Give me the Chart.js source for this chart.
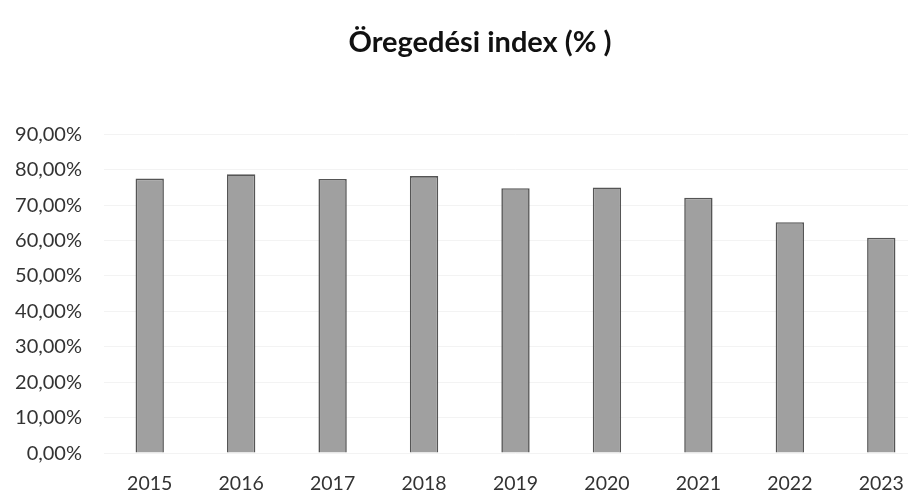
<!DOCTYPE html>
<html>
<head>
<meta charset="utf-8">
<script src="https://cdn.jsdelivr.net/npm/chart.js@4"></script>
<style>
  html, body { margin: 0; padding: 0; background: #fff; overflow: hidden; }
  #wrap { position: absolute; left: 0; top: 0; width: 960px; height: 515px; }
</style>
</head>
<body>
<div id="wrap"><canvas id="c"></canvas></div>
<script>
const chartTitle = "Öregedési index (% )";
const years = ["2015", "2016", "2017", "2018", "2019", "2020", "2021", "2022", "2023"];
const agingIndex = [77.5, 78.7, 77.4, 78.2, 74.8, 75.0, 72.1, 65.2, 60.8];
const yTickValues = [0, 10, 20, 30, 40, 50, 60, 70, 80, 90];

const fmt = v => v.toFixed(2).replace('.', ',') + '%';

new Chart(document.getElementById('c'), {
  type: 'bar',
  data: {
    labels: years,
    datasets: [{
      data: agingIndex,
      backgroundColor: '#a0a0a0',
      borderColor: '#555555',
      borderWidth: 1.6,
      categoryPercentage: 0.31,
      barPercentage: 1.0
    }]
  },
  options: {
    responsive: true,
    maintainAspectRatio: false,
    animation: false,
    layout: { padding: { left: 0, right: 0, top: 0, bottom: 0.5 } },
    plugins: {
      legend: { display: false },
      tooltip: { enabled: false },
      title: {
        display: true,
        text: chartTitle,
        color: '#111111',
        font: { family: 'Lato', size: 29, weight: 'bold' },
        padding: { top: 25, bottom: 74.5 }
      }
    },
    scales: {
      x: {
        grid: { display: false, drawTicks: false },
        border: { display: false },
        ticks: {
          color: '#333333',
          padding: 19,
          font: { family: 'Lato', size: 19.5 }
        }
      },
      y: {
        min: 0,
        max: 90,
        afterBuildTicks: s => { s.ticks = yTickValues.map(v => ({ value: v })); },
        afterFit: s => { s.width = 104; },
        grid: { color: '#f3f3f3', drawTicks: false },
        border: { display: false },
        ticks: {
          color: '#333333',
          padding: 22,
          font: { family: 'Lato', size: 20 },
          callback: v => fmt(v)
        }
      },
      yRight: {
        position: 'right',
        display: true,
        afterFit: s => { s.width = 33; },
        grid: { display: false, drawTicks: false },
        border: { display: false },
        ticks: { display: false }
      }
    }
  }
});
</script>
</body>
</html>
